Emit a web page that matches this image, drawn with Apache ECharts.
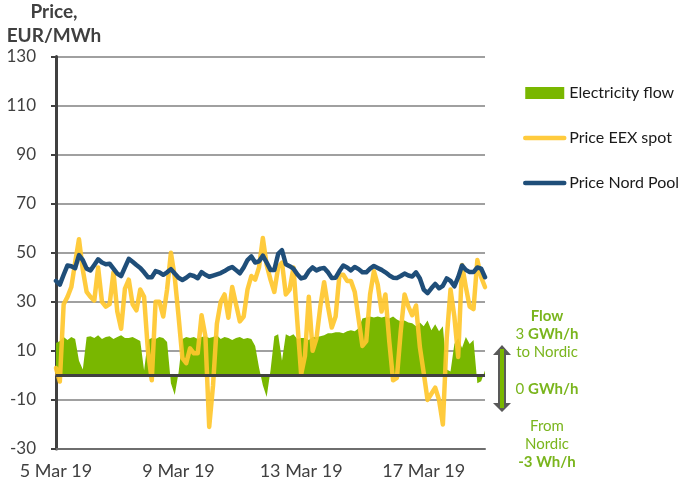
<!DOCTYPE html>
<html>
<head>
<meta charset="utf-8">
<script src="https://cdn.jsdelivr.net/npm/echarts@6/dist/echarts.min.js"></script>
<style>
  html, body { margin: 0; padding: 0; background: #ffffff; }
  #chart { width: 681px; height: 486px; }
</style>
</head>
<body>
<div id="chart"></div>
<script>
// Hourly market data sampled every 3 hours, starting 5 Mar 2019 00:00
const STEP_DAYS = 0.125;

const tickLabels = ['5 Mar 19', '9 Mar 19', '13 Mar 19', '17 Mar 19'];
const seriesNames = ['Electricity flow', 'Price EEX spot', 'Price Nord Pool'];

// Net flow Germany -> Nordic, GWh/h (negative = from Nordic)
const flowGWh = [
  3.3, 3.5, 3.9, 3.6, 3.9, 3.7, 1.5, 0.6,
  3.9, 4.0, 3.8, 4.1, 3.7, 3.9, 4.0, 3.7,
  3.9, 4.1, 3.8, 3.8, 3.9, 3.7, 3.5, 0.5,
  3.6, 3.8, 3.7, 3.9, 3.8, 3.4, -0.8, -2.0,
  0.3, 3.7, 3.9, 3.8, 3.9, 3.7, 3.9, 4.0,
  3.8, 3.9, 4.1, 3.7, 3.9, 3.8, 3.6, 3.8,
  3.9, 3.7, 3.8, 3.7, 3.0, 0.8, -1.0, -2.2,
  0.5, 4.0, 4.2, 1.5, 4.2, 4.0, 4.2, 3.7,
  3.8, 3.8, 3.6, 3.9, 3.9, 4.0, 4.1, 4.3,
  4.3, 4.4, 4.4, 4.3, 4.5, 4.6, 4.5, 4.8,
  5.8, 5.9, 6.0, 5.9, 6.0, 5.9, 6.0, 5.8,
  6.0, 5.7, 5.5, 5.6, 5.4, 5.3, 5.0, 5.4,
  5.0, 5.6, 4.6, 5.2, 4.5, 5.0, 0.6, 0.4,
  3.2, 3.8, 2.8, 3.9, 3.2, 3.6, -0.8, -0.6,
  0.5
];

// EEX day-ahead spot price, EUR/MWh
const priceEEX = [
  3, -2.5, 29, 32, 36, 46, 55.5, 43,
  34, 32, 30.5, 44, 30, 28, 29, 42,
  26, 19, 35.4, 39, 29, 26.5, 35, 32,
  10, -2, 30, 30, 24, 35, 50, 40,
  24, 7, 5, 11, 9, 9, 24.5, 16,
  -21, -4, 21, 30, 33, 23.5, 36, 29,
  22, 24, 35, 40.5, 39, 44, 56, 45,
  39, 34, 44, 46, 33, 35, 44, 22,
  0.3, 8, 32, 10, 15, 28, 38, 28,
  19.5, 24, 41, 41, 38.5, 38.5, 34, 23,
  12, 14, 33, 42.5, 37, 26, 33, 14,
  -2, -1, 18, 33, 28, 24.5, 28.5, 11.5,
  1, -10, -7.5, -5, -10, -20, 15, 35,
  24, 7.5, 45, 36, 28, 27, 47, 40,
  36
];

// Nord Pool system price, EUR/MWh
const priceNordPool = [
  38.5, 37, 41, 44.8, 44.5, 43.7, 49, 47,
  43.5, 42.8, 45, 47.3, 46, 45.3, 45.5, 43.5,
  41.5, 40.5, 44, 47.5, 46.3, 45, 43.8, 42,
  40, 40, 42.5, 42, 41, 42, 43.3, 41.5,
  39.8, 38.9, 39.8, 41, 40.5, 39.6, 42.1, 41,
  40.2, 40.7, 41.2, 41.7, 42.5, 43.5, 44.2, 42.9,
  41.6, 44, 47, 48.5, 46, 46.5, 48.8, 46,
  43, 43, 49.5, 51, 45.3, 44.5, 43.5, 41.2,
  39.5, 40, 42.5, 44, 42.8, 43.5, 43.8, 42,
  39.7, 39.8, 42.5, 44.8, 44, 42.8, 44.2, 43.3,
  42, 42, 43.5, 44.6, 43.8, 43, 42, 40.8,
  39.8, 39.7, 40.5, 41.5, 40.7, 40.3, 42, 39.5,
  35, 33.5, 35.5, 37.3, 35.5, 36.5, 39.5, 38.5,
  36.3, 40, 44.8, 43, 42.1, 42.1, 44, 43.5,
  40
];

const FONT = 'Lato, "Liberation Sans", sans-serif';
const GREEN = '#79B700';
const TEXT_GREEN = '#7AB51D';
const YELLOW = '#FFC72C';
const BLUE = '#1F4E79';

function toPairs(values) {
  return values.map((v, i) => [i * STEP_DAYS, v]);
}

const chart = echarts.init(document.getElementById('chart'), null, { renderer: 'canvas' });

const richStyles = {
  b: { fontFamily: FONT, fontSize: 15, fontWeight: 'bold', fill: TEXT_GREEN, lineHeight: 18 },
  n: { fontFamily: FONT, fontSize: 15, fill: TEXT_GREEN, lineHeight: 18 }
};

const option = {
  animation: false,
  backgroundColor: '#ffffff',
  grid: { left: 56, right: 196, top: 52, bottom: 37 },
  legend: {
    orient: 'vertical',
    left: 518,
    top: 80,
    itemWidth: 39,
    itemHeight: 12,
    itemGap: 29,
    selectedMode: false,
    textStyle: { fontFamily: FONT, fontSize: 16, color: '#1a1a1a' },
    data: [
      { name: seriesNames[0], icon: 'rect' },
      { name: seriesNames[1], itemStyle: { opacity: 0 }, lineStyle: { width: 4.5, cap: 'round' } },
      { name: seriesNames[2], itemStyle: { opacity: 0 }, lineStyle: { width: 4.5, cap: 'round' } }
    ]
  },
  xAxis: {
    type: 'value',
    min: 0,
    max: 14,
    interval: 4,
    axisLine: { show: true, onZero: false, lineStyle: { color: '#6e6e6e', width: 2 } },
    axisTick: { show: false },
    splitLine: { show: false },
    axisLabel: {
      showMaxLabel: false,
      margin: 13,
      fontFamily: FONT,
      fontSize: 18,
      color: '#404040',
      formatter: v => tickLabels[Math.round(v / 4)] || ''
    }
  },
  yAxis: [
    {
      type: 'value',
      min: -30,
      max: 130,
      interval: 20,
      name: 'Price,\nEUR/MWh',
      nameLocation: 'end',
      nameGap: 1,
      nameTextStyle: {
        fontFamily: FONT,
        fontSize: 19,
        fontWeight: 'bold',
        color: '#404040',
        lineHeight: 24,
        align: 'center',
        verticalAlign: 'bottom',
        padding: [0, 4, 0, 0]
      },
      axisLine: { show: true, lineStyle: { color: '#404040', width: 3 } },
      axisTick: { show: true, length: 5, lineStyle: { color: '#404040', width: 2 } },
      axisLabel: { margin: 20, fontFamily: FONT, fontSize: 17, color: '#404040' },
      splitLine: { show: true, lineStyle: { color: '#808080', width: 1.5 } }
    },
    {
      type: 'value',
      min: -7.5,
      max: 32.5,
      show: false,
      splitLine: { show: false }
    }
  ],
  series: [
    {
      name: seriesNames[0],
      type: 'line',
      yAxisIndex: 1,
      data: toPairs(flowGWh),
      symbol: 'none',
      lineStyle: { width: 0 },
      itemStyle: { color: GREEN },
      areaStyle: { color: GREEN, opacity: 1 },
      markLine: {
        silent: true,
        symbol: ['none', 'none'],
        label: { show: false },
        lineStyle: { color: '#404040', width: 3, type: 'solid' },
        data: [{ yAxis: 0 }]
      },
      z: 2
    },
    {
      name: seriesNames[1],
      type: 'line',
      data: toPairs(priceEEX),
      symbol: 'none',
      itemStyle: { color: YELLOW },
      lineStyle: { color: YELLOW, width: 4.5, opacity: 0.92, cap: 'round', join: 'round' },
      z: 3
    },
    {
      name: seriesNames[2],
      type: 'line',
      data: toPairs(priceNordPool),
      symbol: 'none',
      itemStyle: { color: BLUE },
      lineStyle: { color: BLUE, width: 4.5, cap: 'round', join: 'round' },
      z: 4
    }
  ],
  graphic: [
    // double-headed flow direction arrow
    {
      type: 'polygon',
      shape: {
        points: [[502, 345], [511, 355], [506, 355], [506, 403], [511, 403],
                 [502, 412], [493, 403], [498, 403], [498, 355], [493, 355]]
      },
      style: { fill: '#595959' }
    },
    {
      type: 'line',
      shape: { x1: 502, y1: 349, x2: 502, y2: 408 },
      style: { stroke: GREEN, lineWidth: 4 }
    },
    {
      type: 'text',
      x: 547,
      y: 307,
      style: {
        text: '{b|Flow}\n{n|3 }{b|GWh/h}\n{n|to Nordic}',
        align: 'center',
        verticalAlign: 'top',
        fill: TEXT_GREEN,
        rich: richStyles
      }
    },
    {
      type: 'text',
      x: 547,
      y: 380,
      style: {
        text: '{n|0 }{b|GWh/h}',
        align: 'center',
        verticalAlign: 'top',
        fill: TEXT_GREEN,
        rich: richStyles
      }
    },
    {
      type: 'text',
      x: 547,
      y: 417,
      style: {
        text: '{n|From}\n{n|Nordic}\n{b|-3 Wh/h}',
        align: 'center',
        verticalAlign: 'top',
        fill: TEXT_GREEN,
        rich: richStyles
      }
    }
  ]
};

chart.setOption(option);
</script>
</body>
</html>
